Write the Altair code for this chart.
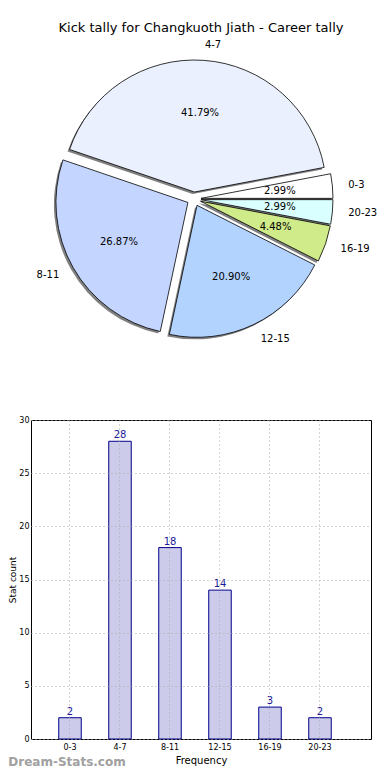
import altair as alt
import pandas as pd

categories = ["0-3", "4-7", "8-11", "12-15", "16-19", "20-23"]
counts = [2, 28, 18, 14, 3, 2]
pie_colors = ["#ffffff", "#eaf0fe", "#c4d6ff", "#b3d3ff", "#d0eb8a", "#d9ffff"]

df = pd.DataFrame({"cat": categories, "count": counts, "idx": list(range(len(categories)))})

R = 132
EXPLODE = 7
PIE_W = 340
PIE_H = 376
CX = 163
CY = 160

FONT = "DejaVu Sans"

pie_base = (
    alt.Chart(df)
    .transform_joinaggregate(total="sum(count)")
    .transform_window(cum="sum(count)", sort=[alt.SortField("idx")], frame=[None, 0])
    .transform_calculate(
        a0="2*PI*(datum.cum-datum.count)/datum.total",
        a1="2*PI*datum.cum/datum.total",
    )
    .transform_calculate(
        am="(datum.a0+datum.a1)/2",
        t1="PI/2-datum.a1",
        t2="PI/2-datum.a0",
        pct="format(datum.count/datum.total*100,'.2f')+'%'",
    )
    .transform_calculate(
        px=f"{CX}+{EXPLODE}*cos(datum.am)",
        py=f"{CY}-{EXPLODE}*sin(datum.am)",
    )
    .transform_calculate(
        lx=f"datum.px+{1.12 * R}*cos(datum.am)",
        ly=f"datum.py-{1.12 * R}*sin(datum.am)",
        qx=f"datum.px+{0.6 * R}*cos(datum.am)",
        qy=f"datum.py-{0.6 * R}*sin(datum.am)",
        side="cos(datum.am) >= 0 ? 'r' : 'l'",
    )
)

arc_enc = dict(
    theta=alt.Theta("t1:Q", scale=None),
    theta2=alt.Theta2("t2:Q"),
    x=alt.X("px:Q", scale=None, axis=None),
    y=alt.Y("py:Q", scale=None, axis=None),
)

shadow = pie_base.mark_arc(outerRadius=R, fill="#808080", xOffset=-2, yOffset=2).encode(**arc_enc)
slices = pie_base.mark_arc(outerRadius=R, stroke="black", strokeWidth=0.8).encode(
    fill=alt.Color("cat:N", scale=alt.Scale(domain=categories, range=pie_colors), legend=None),
    **arc_enc,
)
pct_text = pie_base.mark_text(fontSize=10, font=FONT, color="black").encode(
    x=alt.X("qx:Q", scale=None, axis=None),
    y=alt.Y("qy:Q", scale=None, axis=None),
    text="pct:N",
)
lab_r = pie_base.transform_filter("datum.side == 'r'").mark_text(
    fontSize=10, font=FONT, color="black", align="left", baseline="middle"
).encode(
    x=alt.X("lx:Q", scale=None, axis=None),
    y=alt.Y("ly:Q", scale=None, axis=None),
    text="cat:N",
)
lab_l = pie_base.transform_filter("datum.side == 'l'").mark_text(
    fontSize=10, font=FONT, color="black", align="right", baseline="middle"
).encode(
    x=alt.X("lx:Q", scale=None, axis=None),
    y=alt.Y("ly:Q", scale=None, axis=None),
    text="cat:N",
)

pie = alt.layer(shadow, slices, pct_text, lab_r, lab_l).properties(
    width=PIE_W,
    height=PIE_H,
    title=alt.TitleParams(
        "Kick tally for Changkuoth Jiath - Career tally",
        fontSize=13,
        font=FONT,
        fontWeight="normal",
        anchor="middle",
        color="black",
        offset=4,
    ),
)

grid_style = dict(grid=True, gridDash=[1, 3], gridColor="#aaaaaa", gridWidth=1)

bars = alt.Chart(df).mark_bar(fill="#ccccea", stroke="#00008b", strokeWidth=1).encode(
    x=alt.X(
        "cat:N",
        sort=categories,
        scale=alt.Scale(paddingInner=0.55, paddingOuter=0.675, align=0.411),
        axis=alt.Axis(
            title="Frequency",
            labelAngle=0,
            labelFontSize=8,
            labelFont=FONT,
            labelColor="black",
            labelPadding=4,
            ticks=False,
            domain=False,
            bandPosition=0.5,
            titleFontSize=10,
            titleFont=FONT,
            titleFontWeight="normal",
            titleColor="black",
            titlePadding=4,
            zindex=1,
            **grid_style,
        ),
    ),
    y=alt.Y(
        "count:Q",
        scale=alt.Scale(domain=[0, 30], nice=False),
        axis=alt.Axis(
            title="Stat count",
            values=[0, 5, 10, 15, 20, 25, 30],
            labelFontSize=8,
            labelFont=FONT,
            labelColor="black",
            labelPadding=2,
            ticks=False,
            domain=False,
            titleFontSize=9,
            titleFont=FONT,
            titleFontWeight="normal",
            titleColor="black",
            titlePadding=1,
            zindex=1,
            **grid_style,
        ),
    ),
)
bar_text = bars.mark_text(baseline="bottom", dy=-1, fontSize=10, font=FONT, color="#1a1a99").encode(
    text="count:Q"
)

bar_chart = alt.layer(bars, bar_text).properties(
    width=340,
    height=319,
    view=alt.ViewBackground(stroke="black", strokeWidth=1),
)

chart = alt.vconcat(pie, bar_chart, spacing=0).properties(
    padding={"left": 0, "top": 14, "right": 0, "bottom": 0},
    title=alt.TitleParams(
        "Dream-Stats.com",
        orient="bottom",
        anchor="start",
        fontSize=12,
        font=FONT,
        fontWeight="bold",
        color="#a0a0a0",
        offset=-9,
    ),
).configure_view(stroke=None)

chart.save("out.html", embed_options={"renderer": "svg", "actions": False})
